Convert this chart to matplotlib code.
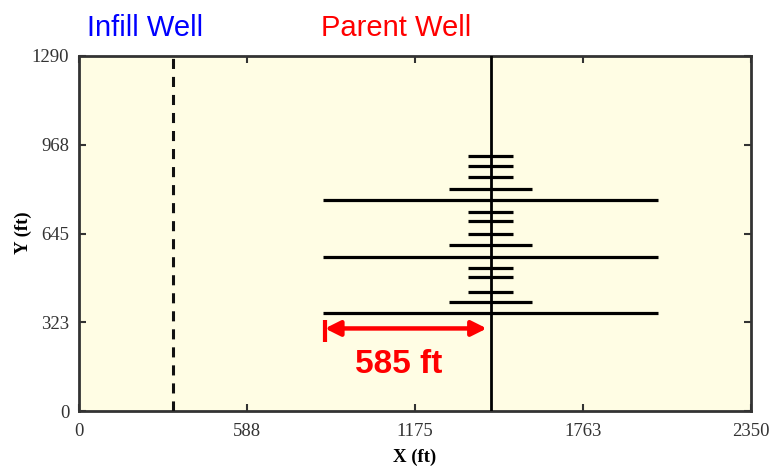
import matplotlib
matplotlib.use("Agg")
import matplotlib.pyplot as plt

# ---- data ----
x_ticks = [0, 588, 1175, 1763, 2350]
y_ticks = [0, 323, 645, 968, 1290]
parent_x = 1440
infill_x = 330
frac_y = [355, 395, 432, 486, 520, 561, 602, 642, 692, 722, 766, 808, 849, 891, 928]
frac_half = [585, 145, 78, 78, 78, 585, 145, 78, 78, 78, 585, 145, 78, 78, 78]
arrow_start = 860
arrow_end = 1426
arrow_y = 300
arrow_label = "585 ft"

W, H = 769, 466
fig = plt.figure(figsize=(W / 100, H / 100), dpi=100)
ax = fig.add_axes([79 / W, 1 - 411 / H, (751 - 79) / W, (411 - 56) / H])
ax.set_facecolor("#FFFDE4")
ax.set_xlim(x_ticks[0], x_ticks[-1])
ax.set_ylim(y_ticks[0], y_ticks[-1])

# wells
ax.plot([parent_x, parent_x], [0, y_ticks[-1]], color="black", lw=2.0, zorder=3)
ax.plot([infill_x, infill_x], [0, y_ticks[-1]], color="#111111", lw=2.2,
        dashes=(3.3, 2.6), zorder=3)

# fractures
lefts = [parent_x - h for h in frac_half]
rights = [parent_x + h for h in frac_half]
ax.hlines(frac_y, lefts, rights, colors="black", lw=2.3, zorder=3)

# arrow
ax.annotate("", xy=(arrow_end, arrow_y), xytext=(arrow_start, arrow_y),
            arrowprops=dict(arrowstyle="<|-|>,head_length=0.9,head_width=0.45",
                            color="red", lw=3.2, shrinkA=0, shrinkB=0), zorder=4)
ax.plot([arrow_start, arrow_start], [arrow_y - 50, arrow_y + 32], color="red",
        lw=3.0, solid_capstyle="butt", zorder=4)
ax.text((arrow_start + arrow_end) / 2 - 25, 170, arrow_label, color="red",
        fontsize=24, fontweight="bold", family=["Liberation Sans", "DejaVu Sans"],
        ha="center", va="center", zorder=5)

# ticks & spines
ax.set_xticks(x_ticks)
ax.set_yticks(y_ticks)
ax.tick_params(direction="in", top=True, right=True, length=5, width=1.5,
               color="#333333", labelsize=13.5, labelcolor="#333333", pad=7)
ax.tick_params(axis="x", pad=9)
for lab in ax.get_xticklabels() + ax.get_yticklabels():
    lab.set_family(["Liberation Serif", "DejaVu Serif"])
for s in ax.spines.values():
    s.set_linewidth(2.0)
    s.set_color("#333333")

ax.set_xlabel("X (ft)", fontsize=13.5, fontweight="bold",
              family=["Liberation Serif", "DejaVu Serif"], labelpad=6)
ax.set_ylabel("Y (ft)", fontsize=13.5, fontweight="bold",
              family=["Liberation Serif", "DejaVu Serif"])
ax.yaxis.set_label_coords(-0.070, 0.501)

# titles
fig.text(145 / W, 1 - 28 / H, "Infill Well", color="blue", fontsize=21,
         family=["Liberation Sans", "DejaVu Sans"], ha="center", va="center")
fig.text(396 / W, 1 - 28 / H, "Parent Well", color="red", fontsize=21,
         family=["Liberation Sans", "DejaVu Sans"], ha="center", va="center")

fig.savefig("out.png", dpi=100)
